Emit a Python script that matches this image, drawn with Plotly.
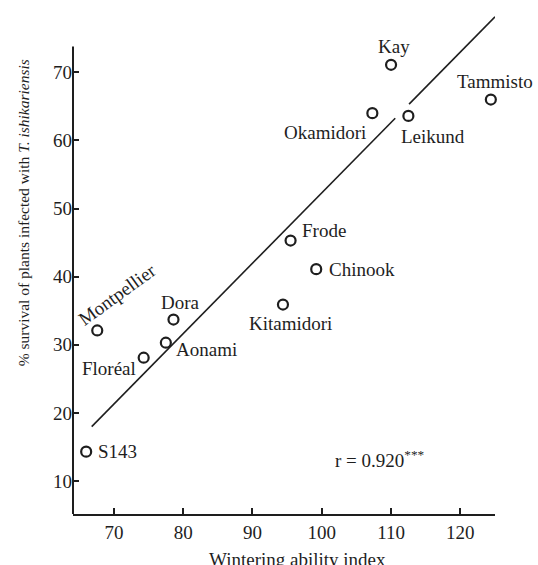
import plotly.graph_objects as go

# ---- data ----
cultivars = ["Kay", "Tammisto", "Okamidori", "Leikund", "Frode", "Chinook",
             "Kitamidori", "Montpellier", "Dora", "Aonami", "Floréal", "S143"]
wintering_index = [110.0, 124.4, 107.3, 112.5, 95.5, 99.2, 94.4, 67.6, 78.6, 77.5, 74.3, 66.0]
survival_pct = [71.1, 66.0, 64.0, 63.6, 45.3, 41.1, 35.9, 32.1, 33.7, 30.3, 28.1, 14.3]

reg_slope = 1.034
reg_intercept = -51.1
reg_x_segments = [[66.8, 110.6], [112.6, 125.0]]

x_ticks = [70, 80, 90, 100, 110, 120]
y_ticks = [10, 20, 30, 40, 50, 60, 70]
r_text = "r = 0.920<sup>***</sup>"

# ---- style / layout ----
INK = "#1e1e1e"
FONT = "Liberation Serif"
label_style = {
    "Kay": dict(xanchor="center", xshift=3, yshift=18),
    "Tammisto": dict(xanchor="center", xshift=4, yshift=18),
    "Okamidori": dict(xanchor="center", xshift=-47, yshift=-19),
    "Leikund": dict(xanchor="center", xshift=25, yshift=-21),
    "Frode": dict(xanchor="left", xshift=9, yshift=10),
    "Chinook": dict(xanchor="left", xshift=11, yshift=0),
    "Kitamidori": dict(xanchor="center", xshift=8, yshift=-19),
    "Montpellier": dict(xanchor="center", xshift=20, yshift=36, textangle=-36),
    "Dora": dict(xanchor="center", xshift=7, yshift=17),
    "Aonami": dict(xanchor="left", xshift=8, yshift=-7),
    "Floréal": dict(xanchor="right", xshift=-6, yshift=-11),
    "S143": dict(xanchor="left", xshift=10, yshift=0),
}

x_range = [64.1, 125.0]
y_range = [5.15, 79.0]
y_axis_top = 73.8

fig = go.Figure()

for seg in reg_x_segments:
    fig.add_trace(go.Scatter(
        x=seg, y=[reg_slope * v + reg_intercept for v in seg],
        mode="lines", line=dict(color=INK, width=1.6),
        hoverinfo="skip", showlegend=False, cliponaxis=False))

fig.add_trace(go.Scatter(
    x=wintering_index, y=survival_pct, mode="markers",
    marker=dict(symbol="circle-open", size=10, color=INK, line=dict(width=2.2, color=INK)),
    text=cultivars, showlegend=False, cliponaxis=False))

annotations = []
for name, xv, yv in zip(cultivars, wintering_index, survival_pct):
    st = dict(label_style[name])
    annotations.append(dict(
        x=xv, y=yv, xref="x", yref="y", text=name, showarrow=False,
        yanchor="middle", font=dict(family=FONT, size=19, color=INK), **st))

annotations.append(dict(x=108.4, y=13.2, xref="x", yref="y", text=r_text, showarrow=False,
                        xanchor="center", yanchor="middle",
                        font=dict(family=FONT, size=19, color=INK)))
annotations.append(dict(x=0.531, y=-0.066, xref="paper", yref="paper",
                        text="Wintering ability index", showarrow=False,
                        xanchor="center", yanchor="top",
                        font=dict(family=FONT, size=19, color=INK)))
annotations.append(dict(x=-0.117, y=0.599, xref="paper", yref="paper",
                        text="% survival of plants infected with <i>T. ishikariensis</i>",
                        showarrow=False, textangle=-90, xanchor="center", yanchor="middle",
                        font=dict(family=FONT, size=15.5, color=INK)))

fig.update_layout(
    width=538, height=565,
    margin=dict(l=73, r=43, t=11, b=51),
    paper_bgcolor="white", plot_bgcolor="white",
    font=dict(family=FONT, size=19, color=INK),
    annotations=annotations,
    shapes=[dict(type="line", xref="paper", yref="y", x0=0, x1=0,
                 y0=y_range[0], y1=y_axis_top, line=dict(color=INK, width=2))],
    xaxis=dict(range=x_range, tickvals=x_ticks, ticks="inside", ticklen=6, tickwidth=1.5,
               tickcolor=INK, showline=True, linecolor=INK, linewidth=2, showgrid=False,
               zeroline=False, tickfont=dict(family=FONT, size=19, color=INK)),
    yaxis=dict(range=y_range, tickvals=y_ticks, ticks="inside", ticklen=6, tickwidth=1.5,
               tickcolor=INK, showline=False, showgrid=False, zeroline=False,
               tickfont=dict(family=FONT, size=19, color=INK)),
)

# remove the default 8px page margin so the figure fills the 538x565 window exactly
fig.write_html("out.html",
               config={"displayModeBar": False},
               post_script="document.body.style.margin='0';document.body.style.overflow='hidden';")
